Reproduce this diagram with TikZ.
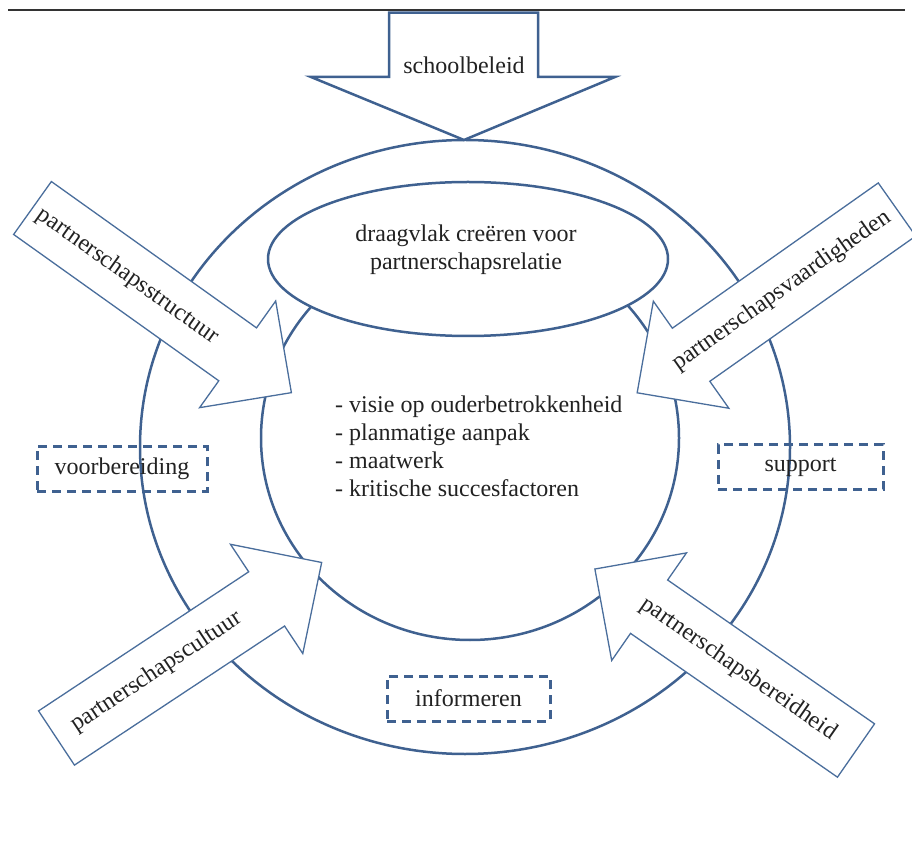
\documentclass[tikz,border=0pt]{standalone}
\usepackage{fontspec}
\setmainfont{Liberation Serif}
\usepackage{tikz}
\usetikzlibrary{shapes.geometric}
\definecolor{LineBlue}{HTML}{3F6190}
\definecolor{ArrowBlue}{HTML}{4A6E9C}
\definecolor{TextGrey}{HTML}{222222}
\definecolor{RuleGrey}{HTML}{333333}
\newcommand\ShaftLen{252}
\newcommand\ShaftWid{65}
\newcommand\HeadWid{131}
\newcommand\HeadLen{66}
\tikzstyle{ring}=[ellipse,draw=LineBlue,line width=2.5pt,fill=white,inner sep=0pt]
\tikzstyle{dashbox}=[rectangle,draw=LineBlue,line width=3pt,dash pattern=on 9pt off 6pt,
                     text=TextGrey,inner sep=0pt,minimum height=45pt]
\tikzstyle{bigarrow}=[draw=LineBlue,line width=2.5pt,fill=white,line join=miter]
\tikzstyle{sidearrow}=[draw=ArrowBlue,line width=1.3pt,fill=white,line join=miter]
\tikzstyle{arrowtext}=[text=TextGrey,inner sep=0pt]
% side arrow: name, tail middle, direction, text place, text angle, text
\newcommand\SideArrow[6]{%
  \begin{scope}[shift={#2},rotate=#3]
    \draw[sidearrow] (0,\ShaftWid/2) -- (\ShaftLen,\ShaftWid/2) -- (\ShaftLen,\HeadWid/2)
      -- (\ShaftLen+\HeadLen,0) -- (\ShaftLen,-\HeadWid/2) -- (\ShaftLen,-\ShaftWid/2)
      -- (0,-\ShaftWid/2) -- cycle;
    \node[arrowtext,rotate=#5] (#1) at (#4,0) {#6};
  \end{scope}}

\begin{document}
\begin{tikzpicture}[x=1pt,y=1pt,every node/.style={font=\fontsize{24}{28}\selectfont}]
      \useasboundingbox (0,0) rectangle (912,841);
      \draw[RuleGrey,line width=1.2pt] (8,831) -- (905,831);
      % rings
      \node[ring,minimum width=650,minimum height=614] (outer) at (465,394) {};
      \node[ring,minimum width=418,minimum height=404] (inner) at (470,403) {};
      \node[ring,minimum width=400,minimum height=154] (draagvlak) at (468,582) {};
      \node[arrowtext,align=center] (draagvlaktext) at (466,591) {draagvlak creëren voor\\partnerschapsrelatie};
      \node[arrowtext,align=left,anchor=west] (lijst) at (335,394.5)
         {- visie op ouderbetrokkenheid\\- planmatige aanpak\\- maatwerk\\- kritische succesfactoren};
      % phases
      \node[dashbox,minimum width=170] (voorbereiding) at (122,372) {voorbereiding};
      \node[dashbox,minimum width=165] (support) at (800.5,373.5) {support};
      \node[dashbox,minimum width=163] (informeren) at (468.5,142.5) {informeren};
      % school policy
      \draw[bigarrow] (389,828.3) -- (538,828.3) -- (538,764) -- (615,764) -- (464,701)
         -- (311,764) -- (389,764) -- cycle;
      \node[arrowtext] (schoolbeleid) at (464,776) {schoolbeleid};
      % side arrows
      \SideArrow{structuur}{(32.5,633)}{-35.5}{117}{-35.5}{partnerschapsstructuur}
      \SideArrow{vaardigheden}{(897,631.5)}{215.2}{141}{35.2}{partnerschapsvaardigheden}
      \SideArrow{cultuur}{(56.5,103)}{33.5}{120}{33.5}{partnerschapscultuur}
      \SideArrow{bereidheid}{(856,90.5)}{145.2}{143}{-34.8}{partnerschapsbereidheid}
\end{tikzpicture}
\end{document}
